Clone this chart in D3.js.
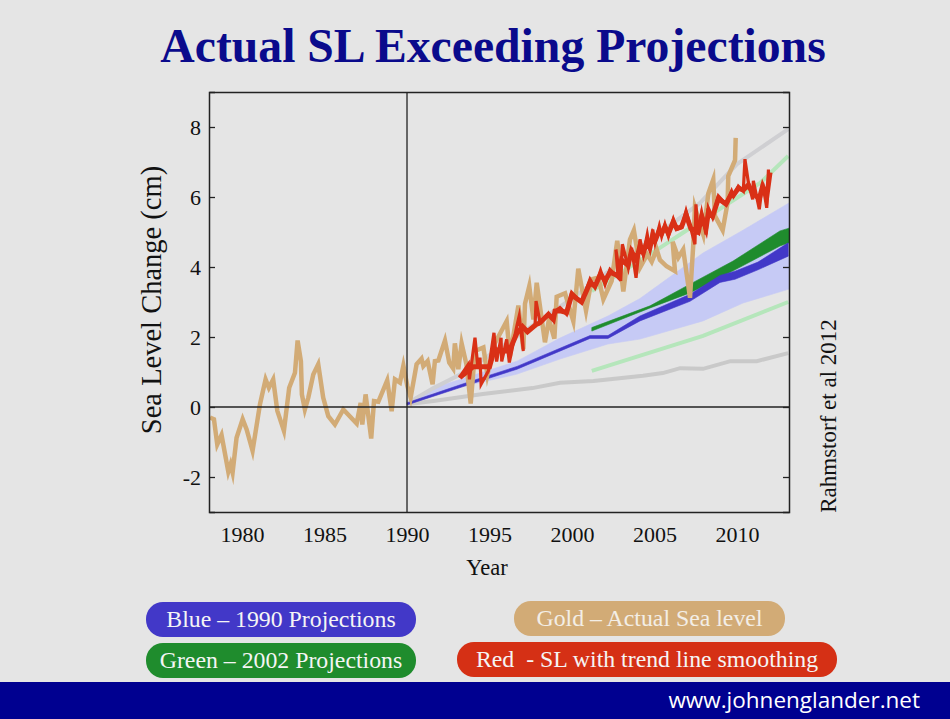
<!DOCTYPE html>
<html>
<head>
<meta charset="utf-8">
<script src="https://cdn.jsdelivr.net/npm/d3@7"></script>
<style>
html, body { margin: 0; padding: 0; background: #e5e5e5; }
svg { display: block; }
text { font-family: "Liberation Serif", serif; white-space: pre; }
</style>
</head>
<body>
<div id="chart"></div>
<script>
// tick labels
const xTicks = [1980, 1985, 1990, 1995, 2000, 2005, 2010];
const yTicks = [-2, 0, 2, 4, 6, 8];

// gold - actual sea level [year, cm]
const goldSeries = [
  [1978.06,-0.30],[1978.30,-0.35],[1978.5,-1.07],[1978.76,-0.8],[1979.17,-1.85],[1979.31,-1.64],[1979.43,-1.87],
  [1979.67,-0.88],[1980.04,-0.35],[1980.28,-0.64],[1980.64,-1.25],[1981.09,0.08],[1981.43,0.79],[1981.63,0.55],
  [1981.89,0.79],[1982.14,-0.11],[1982.54,-0.68],[1982.86,0.55],[1983.21,0.98],[1983.37,1.9],[1983.57,1.31],
  [1983.63,0.36],[1983.81,-0.07],[1984.02,0.27],[1984.32,0.93],[1984.62,1.22],[1984.92,0.27],[1985.23,-0.26],
  [1985.63,-0.5],[1986.14,-0.07],[1986.95,-0.47],[1987.19,0.12],[1987.29,-0.5],[1987.49,0.36],[1987.83,-0.9],
  [1988.0,0.17],[1988.26,0.15],[1988.8,0.76],[1989.07,-0.12],[1989.27,0.79],[1989.57,0.7],[1989.78,1.18],
  [1990.02,0.6],[1990.22,0.27],[1990.58,1.22],[1990.88,1.38],[1990.99,1.17],[1991.25,1.31],[1991.55,0.65],
  [1991.69,1.31],[1991.9,1.33],[1992.3,1.9],[1992.56,1.27],[1992.8,1.1],[1992.9,1.82],[1993.11,1.08],
  [1993.31,1.82],[1993.6,1.22],[1993.86,0.1],[1994.12,1.6],[1994.63,1.7],[1994.87,0.92],[1995.3,1.8],
  [1996.04,2.45],[1996.24,1.45],[1996.75,2.9],[1997.05,1.65],[1997.15,2.95],[1997.41,3.45],[1997.66,2.5],
  [1997.86,3.55],[1998.36,1.85],[1998.6,2.5],[1998.93,1.95],[1999.07,3.15],[1999.58,3.25],[2000.08,2.45],
  [2000.38,3.95],[2000.85,2.75],[2001.19,3.65],[2001.6,3.7],[2001.9,3.08],[2002.4,3.6],[2002.74,4.75],
  [2003.11,3.3],[2003.51,4.78],[2003.75,5.05],[2004.12,3.98],[2004.56,4.36],[2004.83,4.15],[2005.13,4.5],
  [2005.33,4.2],[2005.73,4.02],[2006.24,3.88],[2006.1,4.72],[2006.44,4.27],[2006.74,4.5],[2007.15,3.12],
  [2007.35,4.65],[2007.45,5.7],[2007.96,4.92],[2008.26,6.1],[2008.56,6.5],[2008.66,5.46],[2009.13,5.05],
  [2009.43,5.84],[2009.47,6.6],[2009.88,7.05],[2009.92,7.69]
];

// red - sea level with trend line smoothing, thin spikes
const redSeries = [
  [1993.17,0.84],[1993.72,1.22],[1993.78,0.79],[1994.12,1.98],[1994.3,1.1],[1994.42,1.41],[1994.49,0.65],
  [1994.93,1.03],[1995.27,2.12],[1995.43,1.3],[1995.7,1.98],[1995.74,1.3],[1996.04,1.93],[1996.2,1.27],
  [1996.65,2.3],[1996.8,2.6],[1997.05,1.6],[1996.95,2.31],[1997.25,2.17],[1997.76,2.31],[1997.82,3.03],
  [1998.06,2.41],[1998.57,2.65],[1998.87,2.5],[1998.97,2.74],[1999.27,2.84],[1999.67,2.65],[1999.98,3.27],
  [2000.58,2.98],[2001.09,3.65],[2001.39,3.41],[2001.73,3.9],[2002.0,3.5],[2002.3,3.93],[2002.8,3.69],
  [2002.66,4.5],[2002.95,3.6],[2003.05,4.65],[2003.41,3.98],[2003.61,4.55],[2003.88,3.69],[2004.12,4.79],
  [2004.32,4.36],[2004.56,4.93],[2004.72,4.5],[2004.89,5.07],[2005.03,4.69],[2005.29,5.17],[2005.43,4.88],
  [2005.63,5.22],[2005.84,4.88],[2006.14,5.36],[2006.34,5.07],[2006.64,5.12],[2006.91,5.6],[2007.19,5.12],
  [2007.45,4.65],[2007.51,5.79],[2007.65,4.93],[2007.86,5.55],[2008.12,4.93],[2008.26,5.69],[2008.52,5.41],
  [2008.87,6.03],[2009.33,5.79],[2009.67,6.17],[2009.78,6.03],[2010.08,6.31],[2010.38,6.17],[2010.48,7.08],
  [2010.69,6.41],[2010.95,5.93],[2010.99,6.46],[2011.35,5.65],[2011.55,6.41],[2011.8,5.69],[2011.9,6.74],[2012.0,6.74]
];

// red again, the thick middle of the same line
const redCore = [
  [1993.2,0.84],[1994,1.15],[1994.5,1.15],[1995,1.15],[1995.3,1.65],[1995.7,1.6],[1996.2,1.6],[1996.65,2.1],[1997,2.3],
  [1997.3,2.15],[1997.8,2.35],[1998.06,2.41],[1998.57,2.65],[1998.87,2.5],[1998.97,2.74],[1999.27,2.75],[1999.67,2.7],
  [1999.98,3.2],[2000.58,3.0],[2001.09,3.55],[2001.39,3.45],[2001.73,3.8],[2002,3.6],[2002.3,3.85],[2002.8,3.75],
  [2003,4.2],[2003.4,4.05],[2003.6,4.45],[2003.9,4.2],[2004.12,4.6],[2004.32,4.4],[2004.56,4.75],[2004.72,4.55],
  [2004.89,4.9],[2005.03,4.75],[2005.29,5.05],[2005.43,4.95],[2005.63,5.15],[2005.84,4.95],[2006.14,5.3],[2006.34,5.1],
  [2006.64,5.15],[2006.91,5.5],[2007.2,5.1],[2007.5,5.05],[2007.65,5],[2007.86,5.45],[2008.12,5.1],[2008.26,5.55],
  [2008.52,5.45],[2008.87,5.95],[2009.33,5.8],[2009.67,6.1],[2009.78,6.05],[2010.08,6.25],[2010.38,6.2],[2010.69,6.35],
  [2010.95,6.1],[2011.35,5.95],[2011.55,6.3],[2011.8,6],[2012,6.7]
];

// lavender range around the 1990 projection [year, low, high]
const lavenderBand = [
  [1990,0.08,0.1],[1991.6,0.4,0.54],[1996.67,0.94,1.31],[1999.27,1.37,1.97],[2002.18,1.8,2.6],[2004.12,1.94,3.1],
  [2007.94,2.46,4.4],[2010.36,2.97,5.05],[2013.15,3.37,5.83]
];

// blue - 1990 projections
const blueBand = [
  [1990,0.06,0.12],[1993.64,0.62,0.7],[1996.67,1.08,1.16],[2001.09,1.96,2.04],[2002.18,1.96,2.04],[2004.12,2.46,2.6],
  [2007.15,3.02,3.22],[2008.97,3.56,3.76],[2009.88,3.65,3.88],[2011.27,3.92,4.14],[2013.1,4.31,4.69]
];

// green - 2002 projections
const greenBand = [
  [2001.2,2.17,2.27],[2004.73,2.83,2.89],[2007.15,3.26,3.51],[2009.76,3.89,4.17],[2012.6,4.6,5.03],[2013.15,4.69,5.11]
];

const greyUpper = [[1990,0.1],[1991.6,0.54],[1993.4,0.97],[2000,3.1],[2007.76,5.83],[2010,6.94],[2013.1,7.94]];
const greyLower = [
  [1990,0.08],[1991.6,0.17],[1994.6,0.37],[1997.6,0.54],[1999.27,0.69],[2001.3,0.74],[2004.3,0.89],[2005.5,0.97],
  [2006.55,1.11],[2007.94,1.09],[2009.6,1.31],[2011.2,1.31],[2013.1,1.54]
];
const paleGreenUpper = [[2001.2,3.31],[2005.3,4.54],[2006.7,4.97],[2011.4,6.4],[2013.1,7.17]];
const paleGreenLower = [[2001.2,1.03],[2007.94,2.03],[2013.1,3.0]];

// legend pills
const pillLabels = ['Blue – 1990 Projections', 'Green – 2002 Projections', 'Gold – Actual Sea level', 'Red  - SL with trend line smoothing'];
const pillColors = ['#4238c8', '#1f8c2d', '#d2ab76', '#d53015'];

const width = 950, height = 719;
const plot = {left: 209, right: 789, top: 92, bottom: 512};

const svg = d3.select('#chart').append('svg')
  .attr('width', width)
  .attr('height', height);

svg.append('text')
  .attr('x', 493).attr('y', 62)
  .attr('text-anchor', 'middle')
  .attr('font-size', 47.7)
  .attr('font-weight', 'bold')
  .attr('fill', '#0a0a8c')
  .text('Actual SL Exceeding Projections');

const x = d3.scaleLinear().domain([1978, 2013.15]).range([plot.left, plot.right]);
const y = d3.scaleLinear().domain([-3, 9]).range([plot.bottom, plot.top]);

svg.append('defs').append('clipPath').attr('id', 'plot-clip')
  .append('rect')
  .attr('x', plot.left).attr('y', plot.top)
  .attr('width', plot.right - plot.left)
  .attr('height', plot.bottom - plot.top);

const g = svg.append('g').attr('clip-path', 'url(#plot-clip)');

const line = d3.line().x(d => x(d[0])).y(d => y(d[1]));
const area = d3.area().x(d => x(d[0])).y0(d => y(d[1])).y1(d => y(d[2]));

function drawLine(data, color, w) {
  g.append('path')
    .attr('d', line(data))
    .attr('fill', 'none')
    .attr('stroke', color)
    .attr('stroke-width', w)
    .attr('stroke-linejoin', 'miter')
    .attr('stroke-miterlimit', 6);
}

function drawBand(data, color) {
  g.append('path')
    .attr('d', area(data))
    .attr('fill', color)
    .attr('stroke', color)
    .attr('stroke-width', 0.6);
}

drawBand(lavenderBand, '#c6caf5');
drawLine(greyUpper, '#cfcfd2', 4);
drawLine(greyLower, '#c9c9c9', 4);
drawLine(paleGreenUpper, '#b5e6bb', 4);
drawLine(paleGreenLower, '#b5e6bb', 4);
drawBand(greenBand, '#1f8c2d');
drawBand(blueBand, '#4238c8');
drawLine(goldSeries, '#d2ab76', 4.5);
drawLine(redSeries, '#d93016', 3.2);
drawLine(redCore, '#d93016', 5);

// reference lines at 1990 and 0
svg.append('line')
  .attr('x1', x(1990)).attr('x2', x(1990))
  .attr('y1', plot.top).attr('y2', plot.bottom)
  .attr('stroke', '#222').attr('stroke-width', 1.3);
svg.append('line')
  .attr('x1', plot.left).attr('x2', plot.right)
  .attr('y1', y(0)).attr('y2', y(0))
  .attr('stroke', '#222').attr('stroke-width', 1.3);

const axisBottom = svg.append('g')
  .attr('transform', `translate(0,${plot.bottom})`)
  .call(d3.axisBottom(x).tickValues(xTicks).tickFormat(d3.format('d')).tickSize(0).tickPadding(14));
const axisLeft = svg.append('g')
  .attr('transform', `translate(${plot.left},0)`)
  .call(d3.axisLeft(y).tickValues(yTicks).tickFormat(d => `${d}`).tickSize(-6).tickPadding(8));
const axisRight = svg.append('g')
  .attr('transform', `translate(${plot.right},0)`)
  .call(d3.axisRight(y).tickValues(yTicks).tickSize(-6).tickFormat(''));
const axisTop = svg.append('g')
  .attr('transform', `translate(0,${plot.top})`)
  .call(d3.axisTop(x).tickValues([]).tickSize(0));

[axisBottom, axisLeft, axisRight, axisTop].forEach(a => {
  a.selectAll('path').attr('stroke', '#222').attr('stroke-width', 1.5);
  a.selectAll('line').attr('stroke', '#222').attr('stroke-width', 1.3);
  a.selectAll('text')
    .attr('fill', '#111')
    .style('font-family', '"Liberation Serif", serif')
    .style('font-size', '22px');
});

svg.append('text')
  .attr('transform', 'translate(161,300) rotate(-90)')
  .attr('text-anchor', 'middle')
  .attr('font-size', 28.5)
  .attr('fill', '#111')
  .text('Sea Level Change (cm)');

svg.append('text')
  .attr('x', 487).attr('y', 575)
  .attr('text-anchor', 'middle')
  .attr('font-size', 22.5)
  .attr('fill', '#111')
  .text('Year');

svg.append('text')
  .attr('transform', 'translate(836,416) rotate(-90)')
  .attr('text-anchor', 'middle')
  .attr('font-size', 23)
  .attr('fill', '#111')
  .text('Rahmstorf et al 2012');

// legend, positioned by hand
const pillBoxes = [
  {x: 146, y: 602, w: 270},
  {x: 146, y: 643, w: 270},
  {x: 514, y: 601, w: 271},
  {x: 457, y: 642, w: 380}
];
pillBoxes.forEach((b, i) => {
  svg.append('rect')
    .attr('x', b.x).attr('y', b.y)
    .attr('width', b.w).attr('height', 35)
    .attr('rx', 17).attr('ry', 17)
    .attr('fill', pillColors[i]);
  svg.append('text')
    .attr('x', b.x + b.w / 2).attr('y', b.y + 25)
    .attr('text-anchor', 'middle')
    .attr('font-size', 23.8)
    .attr('fill', i === 2 ? '#f3eee6' : '#f5f5f5')
    .text(pillLabels[i]);
});

// footer band
svg.append('rect')
  .attr('x', 0).attr('y', 682)
  .attr('width', width).attr('height', 37)
  .attr('fill', '#000090');
svg.append('text')
  .attr('x', 920).attr('y', 708)
  .attr('text-anchor', 'end')
  .attr('font-size', 22.5)
  .attr('fill', '#fff')
  .style('font-family', '"Open Sans", sans-serif')
  .text('www.johnenglander.net');
</script>
</body>
</html>
